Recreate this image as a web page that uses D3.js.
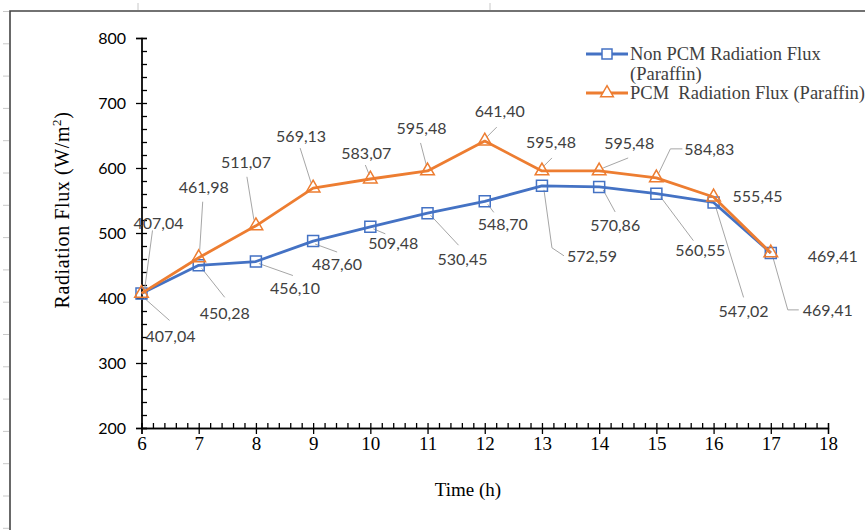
<!DOCTYPE html>
<html>
<head>
<meta charset="utf-8">
<script src="https://cdn.jsdelivr.net/npm/d3@7"></script>
<style>
  body { margin: 0; background: #fff; }
  text { font-family: "Liberation Serif", serif; }
  .lbl { font-family: Lato, "Open Sans", sans-serif; font-size: 16px; fill: #404040; }
  .ytick text { font-family: Lato, sans-serif; font-size: 16px; fill: #000; }
  .xtick text { font-family: "Liberation Serif", serif; font-size: 19px; fill: #000; }
</style>
</head>
<body>
<svg id="chart" width="865" height="530"></svg>
<script>
// исходные данные
const hours = [6, 7, 8, 9, 10, 11, 12, 13, 14, 15, 16, 17];
const nonPcm = [407.04, 450.28, 456.10, 487.60, 509.48, 530.45, 548.70, 572.59, 570.86, 560.55, 547.02, 469.41];
const pcm = [407.04, 461.98, 511.07, 569.13, 583.07, 595.48, 641.40, 595.48, 595.48, 584.83, 555.45, 469.41];
const xTickValues = [6, 7, 8, 9, 10, 11, 12, 13, 14, 15, 16, 17, 18];
const yTickValues = [200, 300, 400, 500, 600, 700, 800];

// смещения подписей данных относительно точки и выноски (в пикселях)
const pcmLabelPos = [[17, -71], [5, -71], [-10, -64], [-12, -53], [-4, -27], [-6, -43], [15, -31], [9, -29], [30, -28], [53, -29], [44, -1], [62, 3]];
const pcmLeaders = [
  [[3, -3], [11, -63]], [[1, -8], [4, -56]], [[-2, -6], [-9, -49]], [[-2, -5], [-13, -40]],
  [[-1, -4], [-5, -14]], [[-1, -5], [-7, -28]], [[2, -4], [12, -14]], [[2, -5], [10, -13]],
  [[4, -3], [29, -13]], [[2, -4], [14, -29], [26, -29]], null, null
];
const nonPcmLabelPos = [[29, 42], [26, 47], [39, 26], [24, 22], [23, 16], [35, 45], [18, 22], [50, 70], [16, 38], [44, 56], [30, 108], [57, 57]];
const nonPcmLeaders = [
  [[2, 4], [28, 27]], [[3, 3], [26, 32]], [[3, 2], [37, 14]], [[2, 3], [24, 11]],
  [[3, 2], [15, 7]], [[3, 2], [31, 32]], [[3, 3], [9, 11]], [[2, 4], [10, 62], [22, 70]],
  [[4, 3], [16, 25]], [[4, 3], [37, 47]], [[2, 4], [30, 95]], [[2, 4], [17, 57], [28, 57]]
];

const svg = d3.select("#chart");
const area = { left: 141.5, right: 828, top: 38, bottom: 428 };

// рамка и метки линейки по краям
svg.append("path")
  .attr("d", `M10,530 V11 H865`)
  .attr("fill", "none")
  .attr("stroke", "#444")
  .attr("stroke-width", 1.6);
svg.append("g").selectAll("line")
  .data(d3.range(0, 17))
  .enter().append("line")
  .attr("x1", 3).attr("x2", 9)
  .attr("y1", d => 11.5 + d * 32.3).attr("y2", d => 11.5 + d * 32.3)
  .attr("stroke", "#c8c8c8");
svg.append("g").selectAll("line")
  .data([138, 490])
  .enter().append("line")
  .attr("x1", d => d).attr("x2", d => d)
  .attr("y1", 3).attr("y2", 10)
  .attr("stroke", "#c8c8c8");

// шкалы
const scX = d3.scaleLinear().domain([6, 18]).range([area.left, area.right]);
const scY = d3.scaleLinear().domain([200, 800]).range([area.bottom, area.top]);

// ось Y: большие деления наружу, все деления внутрь
svg.append("g").attr("class", "ytick")
  .attr("transform", `translate(${area.left},0)`)
  .call(d3.axisLeft(scY).tickValues(yTickValues).tickSize(5.5).tickPadding(10));
svg.append("g")
  .attr("transform", `translate(${area.left},0)`)
  .call(d3.axisRight(scY).tickValues(d3.range(200, 801, 20)).tickSize(5.5).tickFormat(""));

// ось X
svg.append("g").attr("class", "xtick")
  .attr("transform", `translate(0,${area.bottom})`)
  .call(d3.axisBottom(scX).tickValues(xTickValues).tickSize(6).tickPadding(3));
svg.append("g")
  .attr("transform", `translate(0,${area.bottom})`)
  .call(d3.axisTop(scX).tickValues(d3.range(30, 91).map(d => d / 5)).tickSize(5).tickFormat(""));

svg.selectAll(".domain, .tick line").attr("stroke", "#000").attr("stroke-width", 1.3);

// подписи осей
svg.append("text")
  .attr("x", 468).attr("y", 496)
  .attr("text-anchor", "middle")
  .style("font-size", "19px")
  .text("Time (h)");
const yTitle = svg.append("text")
  .attr("transform", "translate(69,210) rotate(-90)")
  .attr("text-anchor", "middle")
  .style("font-size", "20px")
  .style("letter-spacing", "0.6px");
yTitle.append("tspan").text("Radiation Flux (W/m");
yTitle.append("tspan").attr("dy", -8).style("font-size", "13px").text("2");
yTitle.append("tspan").attr("dy", 8).text(")");

const fmt = d3.formatLocale({ decimal: ",", thousands: " ", grouping: [3], currency: ["", ""] }).format(".2f");

function drawSeries(values, color, symbol, labelPos, leaders) {
  const pts = hours.map((h, i) => [scX(h), scY(values[i])]);
  // выноски подписей
  leaders.forEach((ld, i) => {
    if (!ld) return;
    svg.append("polyline")
      .attr("points", ld.map(p => `${pts[i][0] + p[0]},${pts[i][1] + p[1]}`).join(" "))
      .attr("fill", "none")
      .attr("stroke", "#a6a6a6")
      .attr("stroke-width", 1);
  });
  svg.append("path")
    .datum(pts)
    .attr("d", d3.line())
    .attr("fill", "none")
    .attr("stroke", color)
    .attr("stroke-width", 2.8)
    .attr("stroke-linejoin", "round");
  svg.selectAll(null)
    .data(pts)
    .enter().append("path")
    .attr("d", d3.symbol().type(symbol).size(symbol === d3.symbolSquare ? 121 : 80))
    .attr("transform", d => `translate(${d[0]},${d[1]})`)
    .attr("fill", "none")
    .attr("stroke", color)
    .attr("stroke-width", 1.5);
  svg.selectAll(null)
    .data(values)
    .enter().append("text")
    .attr("class", "lbl")
    .attr("x", (d, i) => pts[i][0] + labelPos[i][0])
    .attr("y", (d, i) => pts[i][1] + labelPos[i][1])
    .attr("text-anchor", "middle")
    .attr("dominant-baseline", "central")
    .text(d => fmt(d));
}

drawSeries(nonPcm, "#4472c4", d3.symbolSquare, nonPcmLabelPos, nonPcmLeaders);
drawSeries(pcm, "#ed7d31", d3.symbolTriangle, pcmLabelPos, pcmLeaders);

// легенда
const legend = svg.append("g");
const legendItems = [
  { color: "#4472c4", symbol: d3.symbolSquare, y: 54, lines: ["Non PCM Radiation Flux", "(Paraffin)"] },
  { color: "#ed7d31", symbol: d3.symbolTriangle, y: 93, lines: ["PCM\u00a0 Radiation Flux (Paraffin)"] }
];
legendItems.forEach(it => {
  legend.append("line")
    .attr("x1", 586).attr("x2", 628)
    .attr("y1", it.y).attr("y2", it.y)
    .attr("stroke", it.color).attr("stroke-width", 2.8);
  legend.append("path")
    .attr("d", d3.symbol().type(it.symbol).size(it.symbol === d3.symbolSquare ? 100 : 70))
    .attr("transform", `translate(607,${it.y})`)
    .attr("fill", "#fff")
    .attr("stroke", it.color)
    .attr("stroke-width", 1.5);
  it.lines.forEach((t, k) => {
    legend.append("text")
      .attr("x", 630).attr("y", it.y + 6 + k * 20)
      .style("font-size", "18.5px")
      .attr("fill", "#404040")
      .text(t);
  });
});
</script>
</body>
</html>
